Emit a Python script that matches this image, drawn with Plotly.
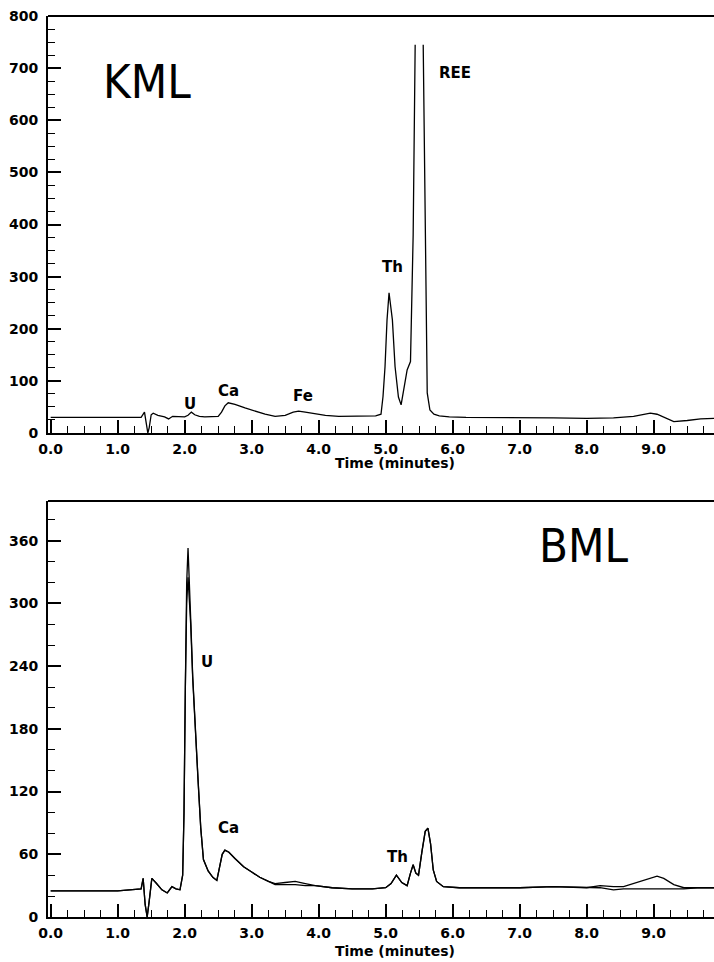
import plotly.graph_objects as go
from plotly.subplots import make_subplots

# ---------------- data ----------------
kml_time = [0.0, 0.5, 1.0, 1.35, 1.40, 1.42, 1.45, 1.47, 1.50, 1.53,
            1.60, 1.70, 1.76, 1.82, 1.90, 2.00, 2.05, 2.10, 2.15, 2.22,
            2.30, 2.40, 2.50, 2.55, 2.60, 2.65, 2.75, 2.90, 3.05, 3.20,
            3.35, 3.50, 3.62, 3.70, 3.80, 3.95, 4.10, 4.30, 4.60, 4.85,
            4.93, 4.96, 4.99, 5.02, 5.05, 5.10, 5.14, 5.19, 5.23, 5.28,
            5.32, 5.37, 5.41, 5.44, 5.50, 5.56, 5.59, 5.62, 5.66, 5.72,
            5.80, 5.95, 6.20, 6.60, 7.00, 7.50, 8.00, 8.40, 8.70, 8.88,
            8.95, 9.05, 9.20, 9.30, 9.50, 9.70, 9.90]
kml_signal = [30, 30, 30, 30, 40, 20, 0, 10, 35, 38,
              34, 31, 27, 32, 31, 31, 34, 40, 35, 32,
              31, 31, 32, 40, 52, 58, 55, 48, 42, 36,
              32, 34, 40, 42, 40, 37, 34, 32, 32, 33,
              36, 70, 127, 217, 269, 217, 127, 69, 54, 88,
              121, 137, 380, 745, None, 745, 447, 77, 44, 36,
              33, 31, 30, 30, 29, 29, 28, 29, 32, 37,
              38, 36, 28, 22, 24, 27, 28]

bml_time = [0.0, 0.5, 1.0, 1.35, 1.38, 1.41, 1.44, 1.47, 1.51, 1.58,
            1.66, 1.74, 1.81, 1.87, 1.93, 1.97, 1.99, 2.01, 2.03, 2.05,
            2.07, 2.09, 2.12, 2.16, 2.20, 2.24, 2.28, 2.35, 2.42, 2.48,
            2.52, 2.56, 2.60, 2.66, 2.75, 2.88, 3.00, 3.12, 3.25, 3.35,
            3.50, 3.65, 3.80, 3.95, 4.20, 4.50, 4.80, 5.00, 5.08, 5.16,
            5.24, 5.32, 5.37, 5.41, 5.45, 5.49, 5.54, 5.59, 5.63, 5.67,
            5.71, 5.76, 5.86, 6.10, 6.50, 7.00, 7.50, 8.00, 8.20, 8.40,
            8.55, 8.70, 8.85, 9.00, 9.05, 9.15, 9.30, 9.45, 9.65, 9.90]
bml_run_a = [25, 25, 25, 27, 37, 12, 0, 15, 37, 32,
             26, 23, 29, 27, 26, 40, 100, 220, 320, 353,
             310, 285, 230, 175, 131, 85, 55, 44, 38, 35,
             48, 60, 64, 62, 56, 48, 43, 38, 34, 32,
             33, 34, 32, 30, 28, 27, 27, 28, 32, 40,
             33, 30, 42, 50, 42, 40, 62, 82, 85, 70,
             45, 34, 29, 28, 28, 28, 29, 28, 30, 29,
             29, 32, 35, 38, 39, 37, 31, 28, 28, 28]
bml_run_b = [25, 25, 25, 27, 37, 12, 0, 15, 37, 32,
             26, 23, 29, 27, 26, 40, 100, 220, 300, 325,
             305, 280, 228, 173, 130, 85, 55, 44, 38, 35,
             48, 60, 64, 62, 56, 48, 43, 38, 34, 31,
             31, 31, 30, 30, 28, 27, 27, 28, 32, 40,
             33, 30, 42, 50, 42, 40, 62, 82, 85, 70,
             45, 34, 29, 28, 28, 28, 29, 28, 28, 26,
             27, 27, 27, 27, 27, 27, 27, 27, 28, 28]

kml_labels = ["U", "Ca", "Fe", "Th", "REE"]
kml_label_x = [2.08, 2.66, 3.77, 5.10, 6.04]
kml_label_y = [56, 81, 71, 319, 691]
bml_labels = ["U", "Ca", "Th"]
bml_label_x = [2.34, 2.65, 5.18]
bml_label_y = [244, 85, 57]

x_tick_vals = [0, 1, 2, 3, 4, 5, 6, 7, 8, 9]
x_tick_text = ["0.0", "1.0", "2.0", "3.0", "4.0", "5.0", "6.0", "7.0", "8.0", "9.0"]
kml_y_ticks = [0, 100, 200, 300, 400, 500, 600, 700, 800]
bml_y_ticks = [0, 60, 120, 180, 240, 300, 360]

assert len(kml_time) == len(kml_signal)
assert len(bml_time) == len(bml_run_a) == len(bml_run_b)

# ---------------- figure ----------------
W, H = 714, 962
m_l, m_r, m_t, m_b = 48, 0, 16, 45
ph = H - m_t - m_b
top_y0 = 433
bot_y0, bot_y1 = 917, 501

fig = make_subplots(rows=2, cols=1)
line = dict(color="black", width=1.3)
fig.add_trace(go.Scatter(x=kml_time, y=kml_signal, mode="lines", line=line,
                         connectgaps=False, showlegend=False), row=1, col=1)
fig.add_trace(go.Scatter(x=bml_time, y=bml_run_a, mode="lines", line=line,
                         showlegend=False), row=2, col=1)
fig.add_trace(go.Scatter(x=bml_time, y=bml_run_b, mode="lines", line=line,
                         showlegend=False), row=2, col=1)

tickfont = dict(family="DejaVu Sans", size=14, color="black", weight="bold")

xa = dict(range=[-0.04, 9.9], tickvals=x_tick_vals, ticktext=x_tick_text,
          ticks="inside", ticklen=13, tickwidth=1.5, tickcolor="black",
          minor=dict(tick0=0, dtick=0.25, ticks="inside", ticklen=7,
                     tickwidth=1.3, tickcolor="black"),
          showline=True, linecolor="black", linewidth=2, automargin=False,
          ticklabelstandoff=2,
          showgrid=False, zeroline=False, tickfont=tickfont, domain=[0, 1])
ya = dict(ticks="inside", ticklen=13, tickwidth=1.5, tickcolor="black",
          showline=True, linecolor="black", linewidth=2, automargin=False,
          ticklabelstandoff=5,
          showgrid=False, zeroline=False, tickfont=tickfont)
fig.update_layout(
    xaxis=dict(xa, anchor="y"),
    xaxis2=dict(xa, anchor="y2"),
    yaxis=dict(ya, range=[0, 800], tickvals=kml_y_ticks,
               minor=dict(tick0=0, dtick=25, ticks="inside", ticklen=7,
                          tickwidth=1.3, tickcolor="black"),
               domain=[(bot_y0 - top_y0) / ph, 1.0]),
    yaxis2=dict(ya, range=[0, 398], tickvals=bml_y_ticks,
                minor=dict(tick0=0, dtick=20, ticks="inside", ticklen=7,
                           tickwidth=1.3, tickcolor="black"),
                domain=[0.0, (bot_y0 - bot_y1) / ph]),
    width=W, height=H,
    margin=dict(l=m_l, r=m_r, t=m_t, b=m_b, pad=0, autoexpand=False),
    plot_bgcolor="white", paper_bgcolor="white",
)

# top border lines
for xr, yr in (("x domain", "y domain"), ("x2 domain", "y2 domain")):
    fig.add_shape(type="line", xref=xr, yref=yr, x0=0, x1=1, y0=1, y1=1,
                  line=dict(color="black", width=2))

lblfont = dict(family="DejaVu Sans", size=15, color="black", weight="bold")
for t, x, y in zip(kml_labels, kml_label_x, kml_label_y):
    fig.add_annotation(x=x, y=y, xref="x", yref="y", text=t, showarrow=False,
                       font=lblfont)
for t, x, y in zip(bml_labels, bml_label_x, bml_label_y):
    fig.add_annotation(x=x, y=y, xref="x2", yref="y2", text=t, showarrow=False,
                       font=lblfont)

bigfont = dict(family="Liberation Sans Narrow, DejaVu Sans Condensed, sans-serif",
               size=47, color="black")
fig.add_annotation(x=1.44, y=675, xref="x", yref="y", text="KML",
                   showarrow=False, font=bigfont)
fig.add_annotation(x=7.95, y=355, xref="x2", yref="y2", text="BML",
                   showarrow=False, font=bigfont)

# axis titles
titlefont = dict(family="DejaVu Sans", size=14, color="black", weight="bold")
fig.add_annotation(x=5.14, y=-0.073, xref="x", yref="y domain",
                   text="Time (minutes)", showarrow=False, font=titlefont,
                   yanchor="middle")
fig.add_annotation(x=5.14, y=-0.082, xref="x2", yref="y2 domain",
                   text="Time (minutes)", showarrow=False, font=titlefont,
                   yanchor="middle")

fig.write_html("out.html",
               config={"displayModeBar": False},
               post_script="document.body.style.margin='0';"
                           "document.body.style.overflow='hidden';")
